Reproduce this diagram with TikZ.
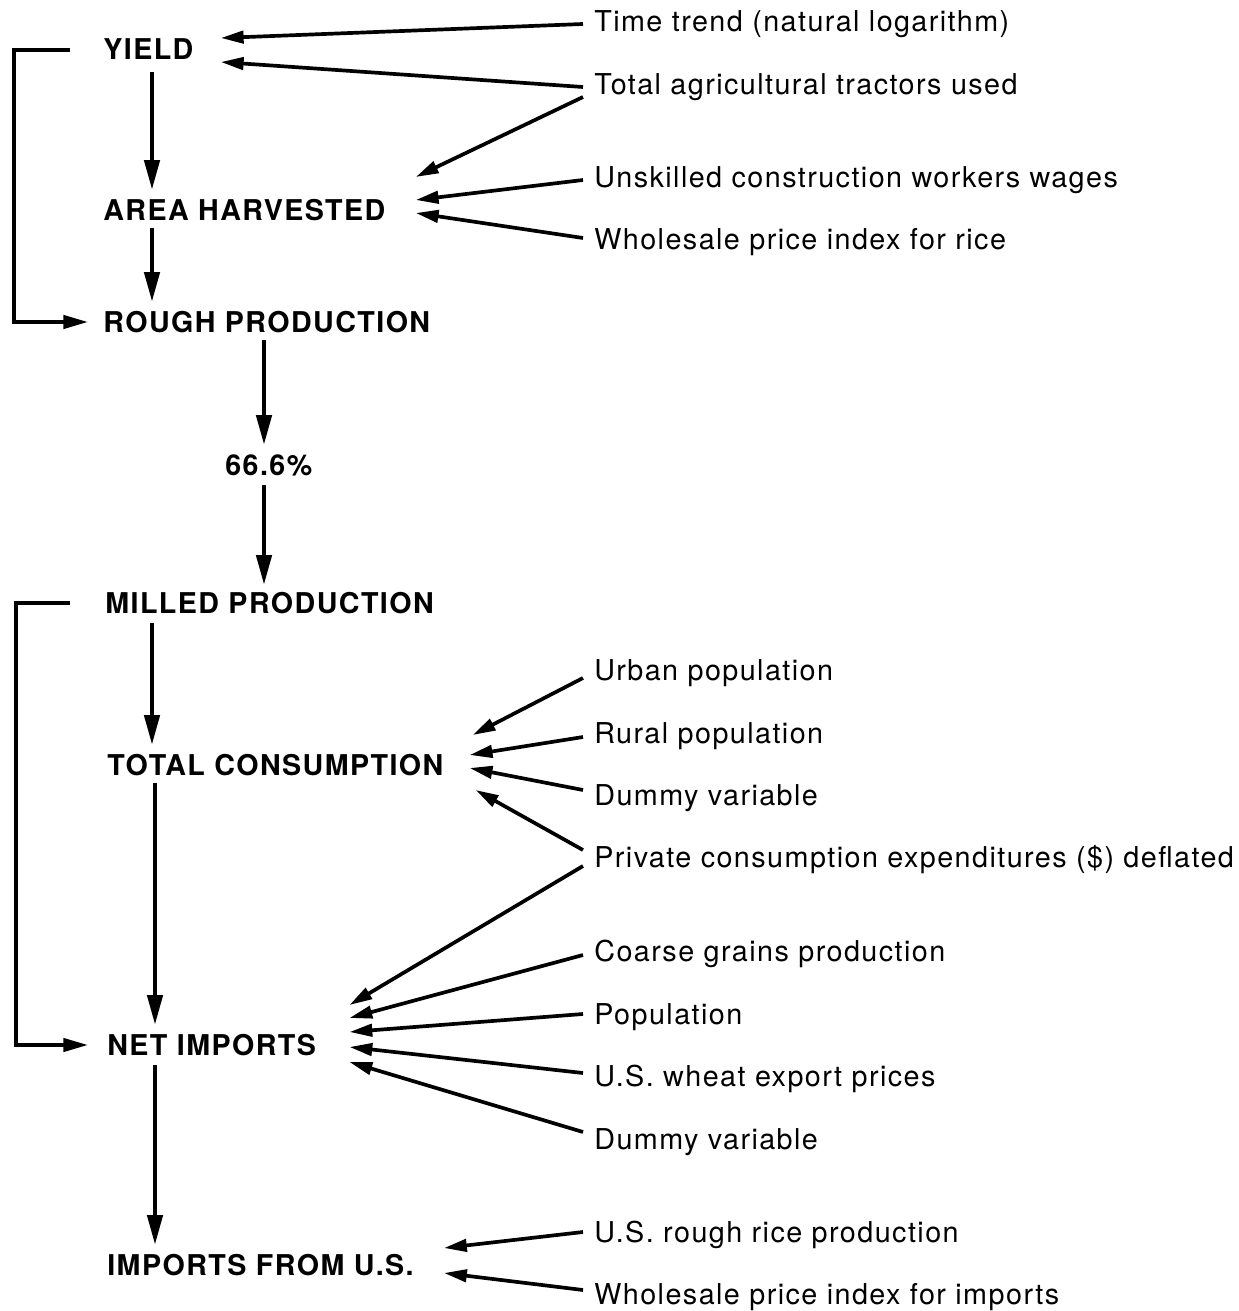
\documentclass[tikz,border=0pt]{standalone}
\usepackage{fontspec}
\setmainfont{TeX Gyre Heros}[LetterSpace=5]
\usetikzlibrary{arrows.meta}
\begin{document}
\begin{tikzpicture}[x=0.02cm,y=-0.02cm,
  main/.style={anchor=base west,inner sep=0pt,font=\fontsize{16.3}{19}\selectfont\bfseries},
  var/.style={anchor=base west,inner sep=0pt,font=\fontsize{16.35}{19}\selectfont},
  big/.style={line width=2.6pt,-{Triangle[length=17pt,width=8.5pt]}},
  small/.style={line width=2.1pt,-{Triangle[length=13pt,width=7pt]}},
  fb/.style={line width=2.1pt,-{Triangle[length=14pt,width=7.5pt]}}]
\useasboundingbox (0,0) rectangle (1239,1311);
% main chain
\node[main] (yield) at (103,60) {YIELD};
\node[main] (area) at (103,220) {AREA HARVESTED};
\node[main] (rough) at (103,332) {ROUGH PRODUCTION};
\node[main] (pct) at (225,475) {66.6\%};
\node[main] (milled) at (105,613) {MILLED PRODUCTION};
\node[main] (total) at (107,775) {TOTAL CONSUMPTION};
\node[main] (net) at (107,1055) {NET IMPORTS};
\node[main] (imp) at (107,1275) {IMPORTS FROM U.S.};
% explanatory variables
\node[var] (tt) at (594,32) {Time trend (natural logarithm)};
\node[var] (tr) at (594,95) {Total agricultural tractors used};
\node[var] (uw) at (594,188) {Unskilled construction workers wages};
\node[var] (wr) at (594,250) {Wholesale price index for rice};
\node[var] (up) at (594,680) {Urban population};
\node[var] (rp) at (594,743) {Rural population};
\node[var] (d1) at (594,805) {Dummy variable};
\node[var] (pc) at (594,867) {Private consumption expenditures (\$) deflated};
\node[var] (cg) at (594,961) {Coarse grains production};
\node[var] (po) at (594,1024) {Population};
\node[var] (wp) at (594,1086) {U.S. wheat export prices};
\node[var] (d2) at (594,1149) {Dummy variable};
\node[var] (rr) at (594,1242) {U.S. rough rice production};
\node[var] (wi) at (594,1304) {Wholesale price index for imports};
% vertical flow
\draw[big] ([shift={(49,12)}]yield.base west) -- ([shift={(49,-30)}]area.base west);
\draw[big] ([shift={(49,8)}]area.base west) -- ([shift={(49,-30)}]rough.base west);
\draw[big] ([shift={(161,8)}]rough.base west) -- ([shift={(39,-30)}]pct.base west);
\draw[big] ([shift={(39,10)}]pct.base west) -- ([shift={(159,-28)}]milled.base west);
\draw[big] ([shift={(47,10)}]milled.base west) -- ([shift={(45,-30)}]total.base west);
\draw[big] ([shift={(48,8)}]total.base west) -- ([shift={(48,-30)}]net.base west);
\draw[big] ([shift={(48,10)}]net.base west) -- ([shift={(48,-30)}]imp.base west);
% feedback brackets
\draw[fb] ([shift={(-33,-10)}]yield.base west) -- ++(-56,0) |- ([shift={(-15,-10)}]rough.base west);
\draw[fb] ([shift={(-35,-10)}]milled.base west) -- ++(-54,0) |- ([shift={(-19,-10)}]net.base west);
% inputs to yield and area
\draw[small] ([shift={(-11,-8)}]tt.base west) -- ([shift={(27,-22)}]yield.base east);
\draw[small] ([shift={(-11,-8)}]tr.base west) -- ([shift={(27,2)}]yield.base east);
\draw[small] ([shift={(-11,2)}]tr.base west) -- ([shift={(30,-43)}]area.base east);
\draw[small] ([shift={(-11,-8)}]uw.base west) -- ([shift={(30,-20)}]area.base east);
\draw[small] ([shift={(-11,-12)}]wr.base west) -- ([shift={(30,-7)}]area.base east);
% inputs to total consumption
\draw[small] ([shift={(-11,-2)}]up.base west) -- ([shift={(29,-40)}]total.base east);
\draw[small] ([shift={(-11,-6)}]rp.base west) -- ([shift={(26,-20)}]total.base east);
\draw[small] ([shift={(-11,-15)}]d1.base west) -- ([shift={(26,-7)}]total.base east);
\draw[small] ([shift={(-11,-17)}]pc.base west) -- ([shift={(32,15)}]total.base east);
% inputs to net imports
\draw[small] ([shift={(-11,-1)}]pc.base west) -- ([shift={(33,-50)}]net.base east);
\draw[small] ([shift={(-11,-6)}]cg.base west) -- ([shift={(33,-37)}]net.base east);
\draw[small] ([shift={(-11,-10)}]po.base west) -- ([shift={(33,-23)}]net.base east);
\draw[small] ([shift={(-11,-13)}]wp.base west) -- ([shift={(33,-8)}]net.base east);
\draw[small] ([shift={(-11,-17)}]d2.base west) -- ([shift={(33,7)}]net.base east);
% inputs to imports from U.S.
\draw[small] ([shift={(-11,-10)}]rr.base west) -- ([shift={(30,-27)}]imp.base east);
\draw[small] ([shift={(-11,-14)}]wi.base west) -- ([shift={(30,-2)}]imp.base east);
\end{tikzpicture}
\end{document}
